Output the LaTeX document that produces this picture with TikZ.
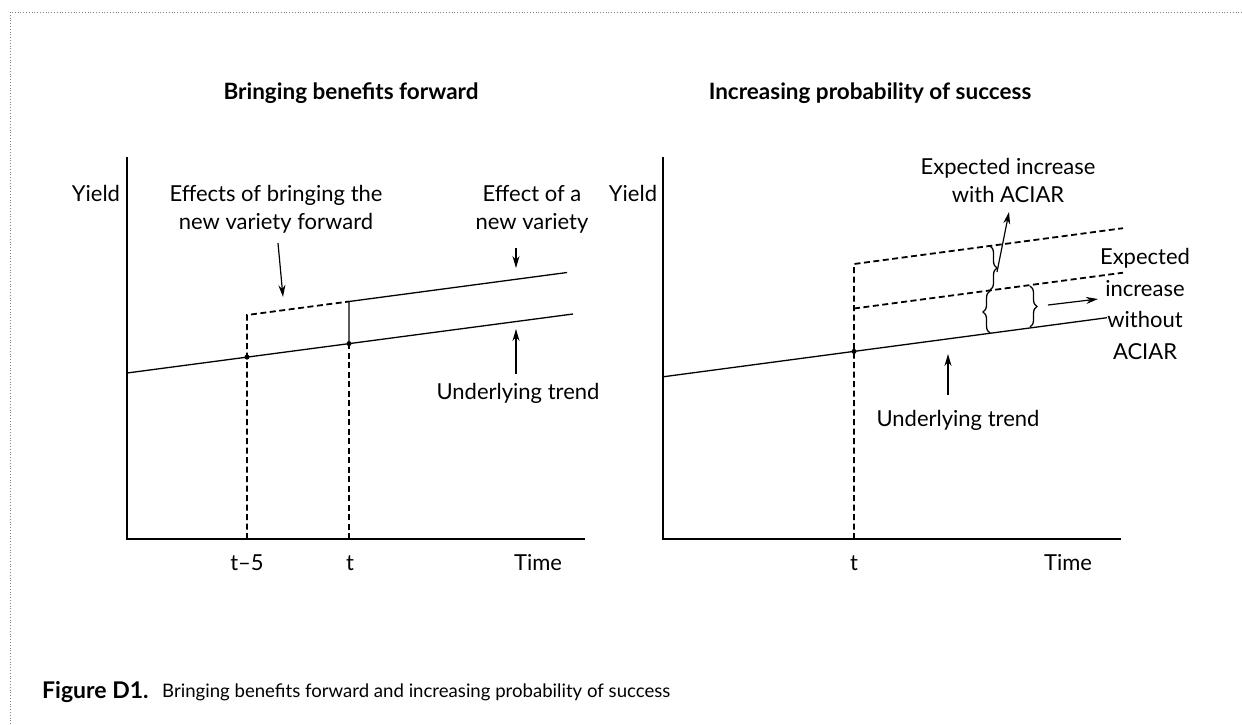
\documentclass[tikz,border=0pt]{standalone}
\usepackage{fontspec}
\setmainfont{Lato}
\usetikzlibrary{arrows.meta,decorations.pathreplacing}
\begin{document}
\begin{tikzpicture}[x=1pt,y=-1pt,
  lbl/.style={font=\fontsize{22}{28}\selectfont, align=center, inner sep=0pt},
  lblw/.style={font=\fontsize{22}{31.5}\selectfont, align=center, inner sep=0pt},
  ttl/.style={font=\fontsize{22.5}{24}\selectfont\bfseries, inner sep=0pt},
  axis/.style={line width=1.5pt},
  solidln/.style={line width=1.3pt},
  dashln/.style={line width=1.8pt, dash pattern=on 6pt off 3.5pt},
  arr/.style={line width=1.2pt, -{Stealth[length=12pt,width=7pt]}},
  dot/.style={circle, fill, inner sep=0pt, minimum size=5pt},
  brc/.style={decorate, decoration={brace, amplitude=7pt}, line width=1.3pt},
  frame/.style={gray, line width=0.8pt, dotted}
]
\useasboundingbox (0,0) rectangle (1242,724);
\draw[frame] (10,724) -- (10,12) -- (1242,12);

% ---------- Left panel ----------
\node[ttl] (ltitle) at (351,93) {Bringing benefits forward};
\coordinate (LO) at (127,539);
\coordinate (LYT) at (127,157);
\coordinate (LXE) at (585,539);
\draw[axis] (LYT) -- (LO) -- (LXE);

\coordinate (LT0) at (127,373);
\coordinate (LT1) at (573,314);
\coordinate (LA) at (247,357.1);
\coordinate (LB) at (349,343.6);
\coordinate (LAu) at (247,315);
\coordinate (LBu) at (349,301.5);
\coordinate (LU1) at (567,272.5);
\coordinate (LAx) at (247,539);
\coordinate (LBx) at (349,539);

\draw[solidln] (LT0) -- (LT1);
\draw[dashln] (LAx) -- (LAu) -- (LBu);
\draw[dashln] (LBx) -- (LB);
\draw[solidln] (LB) -- (LBu) -- (LU1);
\node[dot] (dLA) at (LA) {};
\node[dot] (dLB) at (LB) {};

\node[lbl] (lyield) at (96,193) {Yield};
\node[lbl] (ltm5) at (247,563) {t–5};
\node[lbl] (lt) at (350,563) {t};
\node[lbl] (ltime) at (538,563) {Time};

\node[lbl] (leff) at (276,209) {Effects of bringing the\\new variety forward};
\node[lbl] (lnew) at (532,209) {Effect of a\\new variety};
\node[lbl] (lund) at (518,393) {Underlying trend};

\coordinate (a1s) at (278,243);
\coordinate (a1e) at (283,297);
\coordinate (a2s) at (516,248);
\coordinate (a2e) at (516,268);
\coordinate (a3s) at (516,374);
\coordinate (a3e) at (516,329);
\draw[arr] (a1s) -- (a1e);
\draw[arr] (a2s) -- (a2e);
\draw[arr] (a3s) -- (a3e);

% ---------- Right panel ----------
\node[ttl] (rtitle) at (870,93) {Increasing probability of success};
\coordinate (RO) at (663,539);
\coordinate (RYT) at (663,157);
\coordinate (RXE) at (1121,539);
\draw[axis] (RYT) -- (RO) -- (RXE);

\coordinate (RT0) at (663,376.8);
\coordinate (RT1) at (1107,317.7);
\coordinate (RA) at (854,351.4);
\coordinate (RUc) at (854,264);
\coordinate (RUe) at (1123,228.2);
\coordinate (RMc) at (854,308.5);
\coordinate (RMe) at (1123,272.7);
\coordinate (RAx) at (854,539);

\draw[solidln] (RT0) -- (RT1);
\draw[dashln] (RAx) -- (RUc) -- (RUe);
\draw[dashln] (RMc) -- (RMe);
\node[dot] (dRA) at (RA) {};

% braces
\coordinate (b1t) at (990,246);
\coordinate (b1b) at (990,290);
\coordinate (b2t) at (990,291);
\coordinate (b2b) at (990,333);
\coordinate (b3t) at (1030,286);
\coordinate (b3b) at (1030,327);
\draw[brc] (b1t) -- (b1b);
\draw[brc] (b2b) -- (b2t);
\draw[brc] (b3t) -- (b3b);

\node[lbl] (ryield) at (633,193) {Yield};
\node[lbl] (rt) at (854,563) {t};
\node[lbl] (rtime) at (1068,563) {Time};

\node[lbl] (rwith) at (1008,180) {Expected increase\\with ACIAR};
\node[lblw] (rwo) at (1145,304) {Expected\\increase\\without\\ACIAR};
\node[lbl] (rund) at (958,420) {Underlying trend};

\coordinate (r1s) at (997,272);
\coordinate (r1e) at (1009,212);
\coordinate (r2s) at (1048,305);
\coordinate (r2e) at (1098,299);
\coordinate (r3s) at (948,395);
\coordinate (r3e) at (948,354);
\draw[arr] (r1s) -- (r1e);
\draw[arr] (r2s) -- (r2e);
\draw[arr] (r3s) -- (r3e);

% ---------- Caption ----------
\node[font=\fontsize{23}{24}\selectfont\bfseries, anchor=west, inner sep=0pt] (capa) at (42,692) {Figure D1.};
\node[font=\fontsize{18.6}{24}\selectfont, anchor=west, inner sep=0pt] (capb) at (162,692) {Bringing benefits forward and increasing probability of success};
\end{tikzpicture}
\end{document}
